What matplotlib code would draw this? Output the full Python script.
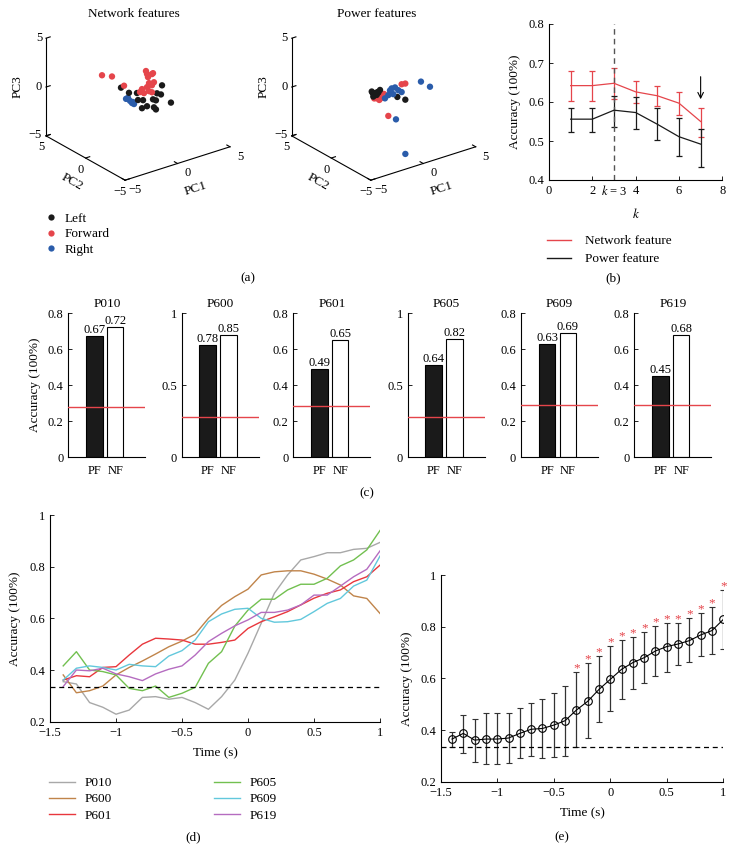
import numpy as np
import matplotlib
matplotlib.use('Agg')
import matplotlib.pyplot as plt
from matplotlib.lines import Line2D
from matplotlib.ticker import FuncFormatter
from matplotlib.transforms import ScaledTranslation
from mpl_toolkits.mplot3d import proj3d

plt.rcParams['font.family'] = ['Liberation Serif', 'DejaVu Serif']
plt.rcParams['font.size'] = 9
plt.rcParams['mathtext.fontset'] = 'stix'
plt.rcParams['axes.unicode_minus'] = True

# ---------------------------------------------------------------- data
# (a) PCA projections (PC1, PC2, PC3)
net_left_pc1 = [-1.62, -0.86, -0.10, 0.48, 1.81, 2.29, 2.19, 1.43, 1.71, 0.86, 0.38, 1.52, 1.71, 3.14, 0.00]
net_left_pc2 = [0, 0, 0, 0, 0, 0, 0, 0, 0, 0, 0, 0, 0, 0, 0]
net_left_pc3 = [1.05, 0.26, -0.02, -0.95, -0.70, -0.05, -0.95, -1.19, -1.39, -1.70, -1.74, -2.04, -2.32, -2.11, -0.77]
net_fwd_pc1 = [-3.43, -2.48, -1.33, 0.76, 0.86, 0.95, 1.33, 1.43, 1.05, 1.52, 1.33, 0.38, 0.19, 0.57, 1.05, 1.33, 0.86]
net_fwd_pc2 = [0, 0, 0, 0, 0, 0, 0, 0, 0, 0, 0, 0, 0, 0, 0, 0, 0]
net_fwd_pc3 = [2.94, 2.49, 1.15, 1.94, 1.60, 1.25, 1.43, 1.49, 0.60, 0.53, 0.29, 0.22, -0.02, -0.26, -0.22, -0.43, 0.26]
net_right_pc1 = [-1.14, -0.76, -0.57, -0.38, -0.48, -0.95]
net_right_pc2 = [0, 0, 0, 0, 0, 0]
net_right_pc3 = [-0.26, -0.60, -0.88, -1.05, -0.81, -0.22]

pow_left_pc1 = [-1.14, -0.92, -0.67, -0.51, -0.99, 1.30, 2.06, -0.35, -0.80, -1.05, -0.60]
pow_left_pc2 = [0, 0, 0, 0, 0, 0, 0, 0, 0, 0, 0]
pow_left_pc3 = [0.49, 0.25, -0.02, 0.16, -0.08, -0.90, -1.44, 0.38, 0.10, 0.30, 0.25]
pow_fwd_pc1 = [-0.67, -0.19, 0.03, 1.71, 2.06, 0.44, -0.42, -0.90, -0.30]
pow_fwd_pc2 = [0, 0, 0, 0, 0, 0, 0, 0, 0]
pow_fwd_pc3 = [-0.36, -0.36, -0.16, 0.26, 0.21, -2.55, -0.62, -0.30, -0.50]
pow_right_pc1 = [0.12, 0.44, 0.76, 1.08, 1.39, 1.71, 0.91, 3.55, 4.41, 1.17, -0.95, 0.60]
pow_right_pc2 = [0, 0, 0, 0, 0, 0, 0, 0, 0, 0, -4.0, 0]
pow_right_pc3 = [-0.64, -0.42, 0.16, 0.15, -0.24, -0.54, -0.48, -0.10, -0.92, -3.15, -4.15, 0.00]

class_names = ['Left', 'Forward', 'Right']

# (b) accuracy vs k
k_vals = [1, 2, 3, 4, 5, 6, 7]
nf_mean = [0.642, 0.642, 0.648, 0.626, 0.616, 0.597, 0.550]
nf_lo = [0.603, 0.603, 0.608, 0.597, 0.590, 0.567, 0.511]
nf_hi = [0.680, 0.680, 0.686, 0.655, 0.642, 0.625, 0.584]
pf_mean = [0.556, 0.556, 0.579, 0.573, 0.543, 0.511, 0.492]
pf_lo = [0.522, 0.522, 0.535, 0.530, 0.503, 0.462, 0.434]
pf_hi = [0.584, 0.584, 0.615, 0.614, 0.584, 0.558, 0.532]
best_k = 3
chosen_k = 7

# (c) per subject
subjects = ['P010', 'P600', 'P601', 'P605', 'P609', 'P619']
pf_acc = [0.67, 0.78, 0.49, 0.64, 0.63, 0.45]
nf_acc = [0.72, 0.85, 0.65, 0.82, 0.69, 0.68]
chance_c = [0.28, 0.28, 0.285, 0.28, 0.287, 0.288]
ymax_c = [0.8, 1.0, 0.8, 1.0, 0.8, 0.8]
bar_labels = ['PF', 'NF']

# (d) time courses
time_s = [-1.4, -1.3, -1.2, -1.1, -1.0, -0.9, -0.8, -0.7, -0.6, -0.5, -0.4, -0.3, -0.2,
          -0.1, 0.0, 0.1, 0.2, 0.3, 0.4, 0.5, 0.6, 0.7, 0.8, 0.9, 1.0]
acc_P010 = [0.355, 0.346, 0.274, 0.256, 0.229, 0.245, 0.294, 0.297, 0.287, 0.294, 0.274, 0.248, 0.297,
            0.361, 0.465, 0.581, 0.697, 0.768, 0.826, 0.839, 0.854, 0.854, 0.867, 0.871, 0.894]
acc_P600 = [0.381, 0.312, 0.320, 0.338, 0.381, 0.410, 0.435, 0.462, 0.490, 0.512, 0.539, 0.600, 0.650,
            0.684, 0.713, 0.768, 0.780, 0.784, 0.784, 0.771, 0.752, 0.729, 0.687, 0.677, 0.619]
acc_P601 = [0.361, 0.378, 0.374, 0.410, 0.413, 0.458, 0.500, 0.523, 0.520, 0.516, 0.500, 0.500, 0.507,
            0.516, 0.561, 0.587, 0.606, 0.626, 0.652, 0.678, 0.697, 0.710, 0.742, 0.761, 0.806]
acc_P605 = [0.416, 0.471, 0.400, 0.394, 0.381, 0.329, 0.320, 0.338, 0.294, 0.310, 0.333, 0.426, 0.471,
            0.570, 0.632, 0.674, 0.674, 0.710, 0.732, 0.732, 0.755, 0.803, 0.826, 0.865, 0.940]
acc_P609 = [0.361, 0.407, 0.416, 0.410, 0.400, 0.422, 0.416, 0.413, 0.454, 0.475, 0.516, 0.587, 0.617,
            0.635, 0.639, 0.600, 0.585, 0.587, 0.596, 0.626, 0.658, 0.677, 0.725, 0.748, 0.841]
acc_P619 = [0.336, 0.400, 0.397, 0.407, 0.385, 0.374, 0.359, 0.385, 0.403, 0.416, 0.458, 0.510, 0.542,
            0.571, 0.594, 0.623, 0.623, 0.632, 0.652, 0.690, 0.690, 0.725, 0.761, 0.790, 0.861]
chance_level = 1 / 3

# (e) group mean
mean_acc = [0.365, 0.387, 0.361, 0.365, 0.365, 0.369, 0.387, 0.403, 0.406, 0.419, 0.436, 0.477, 0.511,
            0.557, 0.596, 0.635, 0.661, 0.680, 0.706, 0.723, 0.733, 0.746, 0.768, 0.785, 0.828]
upper_acc = [0.393, 0.458, 0.444, 0.467, 0.464, 0.467, 0.484, 0.506, 0.522, 0.542, 0.570, 0.623, 0.658,
             0.686, 0.725, 0.748, 0.759, 0.778, 0.803, 0.816, 0.816, 0.832, 0.854, 0.875, 0.942]
lower_acc = [0.333, 0.312, 0.277, 0.268, 0.268, 0.274, 0.290, 0.300, 0.290, 0.297, 0.300, 0.333, 0.370,
             0.432, 0.475, 0.522, 0.559, 0.583, 0.610, 0.626, 0.652, 0.665, 0.686, 0.694, 0.714]
significant = [0, 0, 0, 0, 0, 0, 0, 0, 0, 0, 0, 1, 1, 1, 1, 1, 1, 1, 1, 1, 1, 1, 1, 1, 1]

# ---------------------------------------------------------------- style
W, H = 736, 863
RED = '#e5454b'
BLUE = '#2a5caa'
BLACK = '#1a1a1a'
line_colors = ['#a8a8a8', '#c0844a', '#e8373d', '#72c050', '#62c8dc', '#b56cc0']
FS_TICK = 9
FS_LAB = 9.5

fig = plt.figure(figsize=(W / 100, H / 100), dpi=100)
fmt = FuncFormatter(lambda v, p: ('%g' % v).replace('-', '\u2212'))


def px_ax(x0, y0, x1, y1, **kw):
    return fig.add_axes([x0 / W, 1 - y1 / H, (x1 - x0) / W, (y1 - y0) / H], **kw)


def style2d(ax, pad=3.5):
    for s in ['top', 'right']:
        ax.spines[s].set_visible(False)
    for s in ['left', 'bottom']:
        ax.spines[s].set_linewidth(0.8)
    ax.tick_params(direction='in', length=3, width=0.6, labelsize=FS_TICK, pad=pad)
    ax.xaxis.set_major_formatter(fmt)
    ax.yaxis.set_major_formatter(fmt)


# ---------------------------------------------------------------- (a)
def make_pca(groups):
    ax = fig.add_axes([0, 0, 0.3, 0.3], projection='3d')
    ax.set_proj_type('ortho')
    ax.view_init(elev=25, azim=-127)
    ax.set_box_aspect((1, 1, 0.82))
    ax.set_xlim(-5, 5)
    ax.set_ylim(-5, 5)
    ax.set_zlim(-5, 5)
    ax.set_axis_off()
    ax.set_facecolor('none')
    L, U = -5, 5
    kw = dict(color='k', lw=0.8)
    ax.plot([L, U], [L, L], [L, L], **kw)
    ax.plot([L, L], [L, U], [L, L], **kw)
    ax.plot([L, L], [U, U], [L, U], **kw)
    for v in [-5, 0, 5]:
        ax.plot([v, v], [L, L + 0.4], [L, L], **kw)
        ax.plot([L, L + 0.4], [v, v], [L, L], **kw)
        ax.plot([L, L + 0.4], [U, U], [v, v], **kw)
    for (p1, p2, p3, c) in groups:
        ax.scatter(p1, p2, p3, c=c, s=21, depthshade=False, edgecolors='none')
    return ax


def place3d(ax, cx, cy, target_w):
    for _ in range(3):
        fig.canvas.draw()
        M = ax.get_proj()
        xs, ys, _ = proj3d.proj_transform(np.array([-5., 5., 0.]), np.array([5., -5., 0.]),
                                          np.array([-5., -5., 0.]), M)
        d = ax.transData.transform(np.column_stack([xs, ys]))
        w = d[1, 0] - d[0, 0]
        pos = ax.get_position(original=True)
        k = target_w / w
        side = pos.width * W * k
        pcx = (pos.x0 + pos.width / 2) * W
        pcy = (pos.y0 + pos.height / 2) * H
        offx = (d[2, 0] - pcx) * k
        offy = (d[2, 1] - pcy) * k
        tcx = cx - offx
        tcy = (H - cy) - offy
        ax.set_position([(tcx - side / 2) / W, (tcy - side / 2) / H, side / W, side / H])
    fig.canvas.draw()


def proj2d(ax, x, y, z):
    xs, ys, _ = proj3d.proj_transform(np.array([x], float), np.array([y], float),
                                      np.array([z], float), ax.get_proj())
    return xs[0], ys[0]


def text_at(ax, p3, s, dx=0, dy=0, **kw):
    x2, y2 = proj2d(ax, *p3)
    tr = ax.transData + ScaledTranslation(dx / fig.dpi, -dy / fig.dpi, fig.dpi_scale_trans)
    ax.text2D(x2, y2, s, transform=tr, **kw)


def axis_angle(ax, p0, p1):
    a = ax.transData.transform([proj2d(ax, *p0), proj2d(ax, *p1)])
    ang = np.degrees(np.arctan2(a[1, 1] - a[0, 1], a[1, 0] - a[0, 0]))
    ang = (ang + 180) % 180
    return ang - 180 if ang > 90 else ang


def label_pca(ax):
    L, U = -5, 5
    for v in [-5, 0, 5]:
        lab = ('%g' % v).replace('-', '\u2212')
        text_at(ax, (v, L, L), lab, dx=10, dy=10, ha='center', va='center', fontsize=FS_TICK)
        text_at(ax, (L, v, L), lab, dx=-5, dy=11.5, ha='center', va='center', fontsize=FS_TICK)
        text_at(ax, (L, U, v), lab, dx=-4, dy=-1 if v == -5 else 0, ha='right', va='center',
                fontsize=FS_TICK)
    text_at(ax, (0, L, L), 'PC1', dx=18, dy=25, ha='center', va='center', fontsize=FS_LAB,
            rotation=axis_angle(ax, (L, L, L), (U, L, L)))
    text_at(ax, (L, 0, L), 'PC2', dx=-13, dy=24, ha='center', va='center', fontsize=FS_LAB,
            rotation=axis_angle(ax, (L, L, L), (L, U, L)))
    text_at(ax, (L, U, 0), 'PC3', dx=-28, dy=0, ha='center', va='center', fontsize=FS_LAB,
            rotation=90)


ax_net = make_pca([(net_left_pc1, net_left_pc2, net_left_pc3, BLACK),
                   (net_fwd_pc1, net_fwd_pc2, net_fwd_pc3, RED),
                   (net_right_pc1, net_right_pc2, net_right_pc3, BLUE)])
ax_pow = make_pca([(pow_left_pc1, pow_left_pc2, pow_left_pc3, BLACK),
                   (pow_fwd_pc1, pow_fwd_pc2, pow_fwd_pc3, RED),
                   (pow_right_pc1, pow_right_pc2, pow_right_pc3, BLUE)])
place3d(ax_net, 138, 92.5, 184)
place3d(ax_pow, 383.7, 92.5, 184)
label_pca(ax_net)
label_pca(ax_pow)
fig.text(134 / W, 1 - 14 / H, 'Network features', ha='center', va='center', fontsize=FS_LAB)
fig.text(377 / W, 1 - 14 / H, 'Power features', ha='center', va='center', fontsize=FS_LAB)

ha = [Line2D([], [], ls='none', marker='o', ms=4.5, mec='none', mfc=c) for c in [BLACK, RED, BLUE]]
fig.legend(ha, class_names, loc='upper left', bbox_to_anchor=(44 / W, 1 - 212.5 / H),
           frameon=False, borderpad=0, borderaxespad=0, handlelength=1.0,
           handletextpad=0.55, labelspacing=0.25, fontsize=FS_LAB)
fig.text(248 / W, 1 - 278 / H, '(a)', ha='center', va='center', fontsize=FS_LAB)

# ---------------------------------------------------------------- (b)
axb = px_ax(549, 24, 722.3, 180)
style2d(axb)
axb.errorbar(k_vals, nf_mean, yerr=[np.subtract(nf_mean, nf_lo), np.subtract(nf_hi, nf_mean)],
             color=RED, lw=0.9, elinewidth=0.9, capsize=2.5, capthick=0.9)
axb.errorbar(k_vals, pf_mean, yerr=[np.subtract(pf_mean, pf_lo), np.subtract(pf_hi, pf_mean)],
             color=BLACK, lw=0.9, elinewidth=0.9, capsize=2.5, capthick=0.9)
axb.axvline(best_k, color='#555555', lw=1.0, ls=(0, (4, 3)))
axb.annotate('', xy=(chosen_k, 0.600), xytext=(chosen_k, 0.672),
             arrowprops=dict(arrowstyle='->', lw=0.8, color='k', mutation_scale=10))
axb.set_xlim(0, 8)
axb.set_ylim(0.4, 0.8)
axb.set_xticks([0, 2, 4, 6, 8])
axb.set_yticks([0.4, 0.5, 0.6, 0.7, 0.8])
axb.annotate('$k$ = 3', xy=(best_k, 0), xycoords=('data', 'axes fraction'), xytext=(0, -2.6),
             textcoords='offset points', ha='center', va='top', fontsize=FS_TICK)
axb.set_xlabel('$k$', fontsize=FS_LAB, labelpad=7)
axb.set_ylabel('Accuracy (100%)', fontsize=FS_LAB, labelpad=5)
hb = [Line2D([], [], color=RED, lw=1), Line2D([], [], color=BLACK, lw=1)]
fig.legend(hb, ['Network feature', 'Power feature'], loc='upper left',
           bbox_to_anchor=(547 / W, 1 - 235 / H), frameon=False, borderpad=0, borderaxespad=0,
           handlelength=1.8, handletextpad=1.1, labelspacing=0.45, fontsize=FS_LAB)
fig.text(613 / W, 1 - 278 / H, '(b)', ha='center', va='center', fontsize=FS_LAB)

# ---------------------------------------------------------------- (c)
lefts = [68.3, 181.7, 293.3, 407.7, 521.0, 634.3]
for i, name in enumerate(subjects):
    ax = px_ax(lefts[i], 313, lefts[i] + 77, 457)
    style2d(ax)
    ax.bar([1, 2], [pf_acc[i], nf_acc[i]], width=0.8, color=[BLACK, 'white'],
           edgecolor='k', linewidth=0.8, zorder=2)
    ax.axhline(chance_c[i], color=RED, lw=1.0, zorder=3)
    for xx, v in zip([1, 2], [pf_acc[i], nf_acc[i]]):
        ax.text(xx, v, '%.2f' % v, ha='center', va='bottom', fontsize=FS_TICK)
    ax.set_xlim(-0.256, 3.45)
    ax.set_ylim(0, ymax_c[i])
    if ymax_c[i] == 1.0:
        ax.set_yticks([0, 0.5, 1.0])
    else:
        ax.set_yticks([0, 0.2, 0.4, 0.6, 0.8])
    ax.set_xticks([1, 2])
    ax.set_xticklabels(bar_labels)
    ax.tick_params(axis='x', length=0, pad=6)
    ax.set_title(name, fontsize=FS_LAB, pad=4)
    if i == 0:
        ax.set_ylabel('Accuracy (100%)', fontsize=FS_LAB, labelpad=5)
fig.text(367 / W, 1 - 493 / H, '(c)', ha='center', va='center', fontsize=FS_LAB)

# ---------------------------------------------------------------- (d)
axd = px_ax(50, 515, 380, 721.7)
style2d(axd)
series_d = [acc_P010, acc_P600, acc_P601, acc_P605, acc_P609, acc_P619]
handles_d = []
for s, c, n in zip(series_d, line_colors, subjects):
    h, = axd.plot(time_s, s, color=c, lw=1.0, label=n)
    handles_d.append(h)
axd.axhline(chance_level, color='k', lw=0.9, ls=(0, (4, 3)))
axd.set_xlim(-1.5, 1)
axd.set_ylim(0.2, 1)
axd.set_xticks([-1.5, -1, -0.5, 0, 0.5, 1])
axd.set_yticks([0.2, 0.4, 0.6, 0.8, 1.0])
axd.tick_params(axis='x', pad=4)
axd.set_xlabel('Time (s)', fontsize=FS_LAB, labelpad=6)
axd.set_ylabel('Accuracy (100%)', fontsize=FS_LAB, labelpad=6)
fig.legend(handles_d[:3], subjects[:3], loc='upper left', bbox_to_anchor=(49 / W, 1 - 777 / H),
           frameon=False, borderpad=0, borderaxespad=0, handlelength=2.0, handletextpad=0.7,
           labelspacing=0.3, fontsize=FS_LAB)
fig.legend(handles_d[3:], subjects[3:], loc='upper left', bbox_to_anchor=(214 / W, 1 - 777 / H),
           frameon=False, borderpad=0, borderaxespad=0, handlelength=2.0, handletextpad=0.7,
           labelspacing=0.3, fontsize=FS_LAB)
fig.text(193 / W, 1 - 837 / H, '(d)', ha='center', va='center', fontsize=FS_LAB)

# ---------------------------------------------------------------- (e)
axe = px_ax(440.7, 575, 723.3, 781.7)
style2d(axe)
axe.errorbar(time_s, mean_acc,
             yerr=[np.subtract(mean_acc, lower_acc), np.subtract(upper_acc, mean_acc)],
             color='k', lw=0.8, ecolor='#333333', elinewidth=0.9, capsize=2.3, capthick=0.9,
             marker='o', ms=5.5, mfc='none', mec='k', mew=0.8)
for t, u, sg in zip(time_s, upper_acc, significant):
    if sg:
        axe.text(t, u + 0.014, '*', color=RED, ha='center', va='center', fontsize=FS_LAB)
axe.axhline(chance_level, color='k', lw=0.9, ls=(0, (4, 3)))
axe.set_xlim(-1.5, 1)
axe.set_ylim(0.2, 1)
axe.set_xticks([-1.5, -1, -0.5, 0, 0.5, 1])
axe.set_yticks([0.2, 0.4, 0.6, 0.8, 1.0])
axe.tick_params(axis='x', pad=4)
axe.set_xlabel('Time (s)', fontsize=FS_LAB, labelpad=6)
axe.set_ylabel('Accuracy (100%)', fontsize=FS_LAB, labelpad=5)
fig.text(562 / W, 1 - 837 / H, '(e)', ha='center', va='center', fontsize=FS_LAB)

fig.savefig('out.png', dpi=100)
